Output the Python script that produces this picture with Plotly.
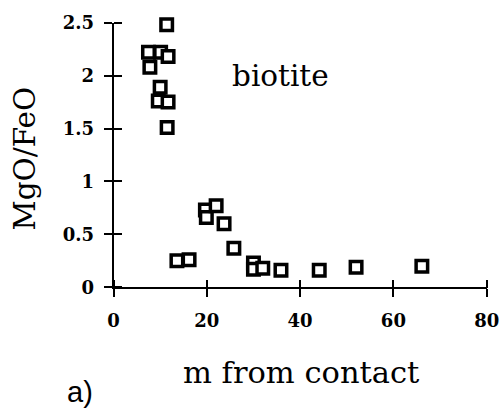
import plotly.graph_objects as go

# Biotite MgO/FeO ratio versus distance from the intrusive contact
distance_m = [11.4, 7.5, 10.1, 11.7, 7.8, 10.0, 9.6, 11.7, 11.5,
              13.6, 16.2, 19.7, 19.9, 22.0, 23.7, 25.8, 30.0, 30.0,
              32.0, 35.9, 44.1, 52.0, 66.1]
mgo_feo = [2.48, 2.22, 2.22, 2.18, 2.08, 1.89, 1.76, 1.75, 1.51,
           0.25, 0.26, 0.73, 0.66, 0.77, 0.60, 0.37, 0.23, 0.17,
           0.18, 0.16, 0.16, 0.19, 0.20]

x_ticks = [0, 20, 40, 60, 80]
y_ticks = [0, 0.5, 1, 1.5, 2, 2.5]
y_tick_text = ["0", "0.5", "1", "1.5", "2", "2.5"]

W, H = 504, 414
SERIF = "DejaVu Serif"
TICK_FONT = dict(family=SERIF, size=18, color="black", weight="bold")
TICK_LEN = 8

fig = go.Figure()
fig.add_trace(go.Scatter(
    x=distance_m, y=mgo_feo, mode="markers",
    marker=dict(symbol="square", size=11.5, color="white",
                line=dict(color="black", width=3.5)),
    cliponaxis=False, showlegend=False, hoverinfo="x+y",
))
# invisible copy on the offset axes that draw the inner half of the
# crossing tick marks
fig.add_trace(go.Scatter(x=distance_m, y=mgo_feo, xaxis="x2", yaxis="y2",
                         mode="markers", marker=dict(opacity=0),
                         showlegend=False, hoverinfo="skip"))

x_dom = [113.5 / W, 486.7 / W]
y_dom = [1 - 287.3 / H, 1 - 22.7 / H]

axis_common = dict(showgrid=False, zeroline=False, linecolor="black",
                   linewidth=1.5, tickcolor="black", tickwidth=1.5,
                   ticklen=TICK_LEN, automargin=False, ticks="outside")

fig.update_layout(
    template="none",
    width=W, height=H,
    margin=dict(l=0, r=0, t=0, b=0),
    paper_bgcolor="white", plot_bgcolor="white",
    xaxis=dict(domain=x_dom, range=[0, 80], tickvals=x_ticks,
               showline=True, tickfont=TICK_FONT,
               ticklabelstandoff=8, anchor="y", **axis_common),
    yaxis=dict(domain=y_dom, range=[0, 2.5], tickvals=y_ticks,
               ticktext=y_tick_text, showline=True,
               tickfont=TICK_FONT, ticklabelstandoff=6, anchor="x",
               **axis_common),
    # offset by one tick length so their outside ticks end on the axis lines
    xaxis2=dict(domain=x_dom, range=[0, 80], tickvals=x_ticks,
                showline=False, showticklabels=False, overlaying="x",
                anchor="free", position=y_dom[0] + TICK_LEN / H,
                side="bottom", **axis_common),
    yaxis2=dict(domain=y_dom, range=[0, 2.5], tickvals=y_ticks,
                showline=False, showticklabels=False, overlaying="y",
                anchor="free", position=x_dom[0] + TICK_LEN / W,
                side="left", **axis_common),
    annotations=[
        dict(text="MgO/FeO", textangle=-90, x=25 / W, y=1 - 158.5 / H,
             xref="paper", yref="paper", showarrow=False,
             xanchor="center", yanchor="middle",
             font=dict(family=SERIF, size=29.5, color="black")),
        dict(text="m from contact", x=301.5 / W, y=1 - 372 / H,
             xref="paper", yref="paper", showarrow=False,
             xanchor="center", yanchor="middle",
             font=dict(family=SERIF, size=30.5, color="black")),
        dict(text="biotite", x=35.8, y=2.0, xref="x", yref="y",
             showarrow=False, xanchor="center", yanchor="middle",
             font=dict(family=SERIF, size=29.5, color="black")),
        dict(text="a)", x=80 / W, y=1 - 392 / H,
             xref="paper", yref="paper", showarrow=False,
             xanchor="center", yanchor="middle",
             font=dict(family="Liberation Sans", size=29, color="black")),
    ],
)

fig.write_html("out.html")
